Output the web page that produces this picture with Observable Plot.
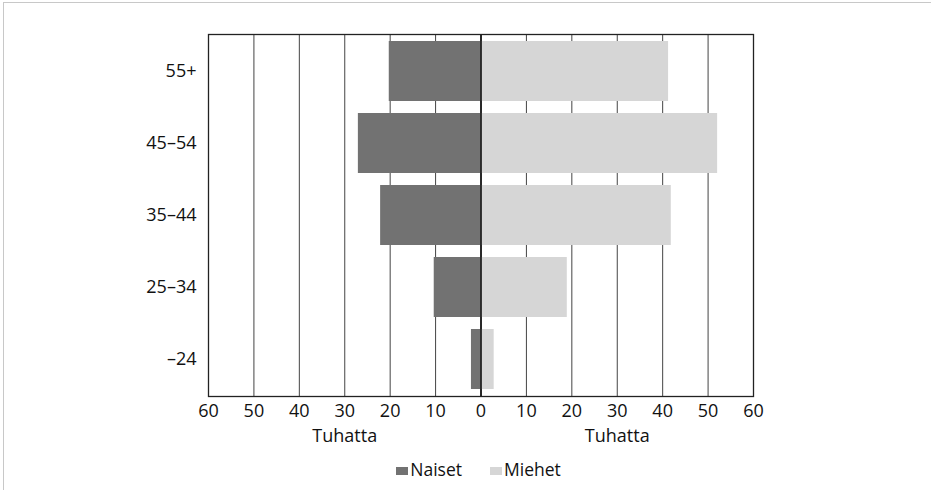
<!DOCTYPE html>
<html>
<head>
<meta charset="utf-8">
<script src="https://cdn.jsdelivr.net/npm/d3@7"></script>
<script src="https://cdn.jsdelivr.net/npm/@observablehq/plot@0.6"></script>
<style>
  html, body { margin: 0; padding: 0; background: #fff; }
  #wrap { position: relative; width: 931px; height: 490px; overflow: hidden; font-family: "Open Sans", sans-serif; }
  #border { position: absolute; left: 3px; top: 2px; right: 0; bottom: 0; border-top: 1px solid #c8c8c8; border-left: 1px solid #c8c8c8; pointer-events: none; }
  #chart { position: absolute; left: 0; top: 0; }
  #legend { position: absolute; left: 0; top: 457px; width: 931px; display: flex; justify-content: center; gap: 28px; font-size: 17.5px; color: #111; padding-left: 26px; box-sizing: border-box; }
  .item { display: flex; align-items: center; }
  .sw { display: inline-block; width: 12px; height: 8px; margin-right: 2px; margin-top: 4px; }
</style>
</head>
<body>
<div id="wrap">
  <div id="chart"></div>
  <div id="legend"></div>
  <div id="border"></div>
</div>
<script>
const ageGroups = ["55+", "45–54", "35–44", "25–34", "–24"];
const naiset = [20.2, 27.0, 22.1, 10.3, 2.1];
const miehet = [41.3, 52.1, 41.9, 19.0, 2.9];
const xTicks = [-60, -50, -40, -30, -20, -10, 0, 10, 20, 30, 40, 50, 60];
const axisTitles = [{x: -30, label: "Tuhatta"}, {x: 30, label: "Tuhatta"}];
const seriesNames = ["Naiset", "Miehet"];
const seriesColors = ["#727272", "#d6d6d6"];

const rows = [];
ageGroups.forEach((a, i) => {
  rows.push({age: a, sex: seriesNames[0], value: -naiset[i]});
  rows.push({age: a, sex: seriesNames[1], value: miehet[i]});
});

const chart = Plot.plot({
  width: 931,
  height: 452,
  marginLeft: 208,
  marginRight: 178,
  marginTop: 34,
  marginBottom: 56,
  style: {fontFamily: "Open Sans, sans-serif", fontSize: "18px", color: "#111", background: "transparent"},
  x: {domain: [-60, 60], ticks: xTicks, tickFormat: d => Math.abs(d), label: null},
  y: {domain: ageGroups, paddingInner: 0.16, paddingOuter: 0.08, label: null},
  color: {domain: seriesNames, range: seriesColors},
  marks: [
    Plot.gridX(xTicks, {stroke: "#444", strokeOpacity: 1, strokeWidth: 1}),
    Plot.barX(rows, {x: "value", y: "age", fill: "sex"}),
    Plot.ruleX([0], {stroke: "#000", strokeWidth: 1.5}),
    Plot.frame({stroke: "#222", strokeWidth: 1.3}),
    Plot.axisX({ticks: xTicks, tickFormat: d => Math.abs(d), tickSize: 0, tickPadding: 8, label: null, fontSize: 18}),
    Plot.axisY({tickSize: 0, tickPadding: 12, label: null, fontSize: 18}),
    Plot.text(axisTitles, {x: "x", text: "label", frameAnchor: "bottom", dy: 45, fontSize: 18, fill: "#111"})
  ]
});
document.getElementById("chart").appendChild(chart);

const legend = document.getElementById("legend");
seriesNames.forEach((n, i) => {
  const it = document.createElement("div");
  it.className = "item";
  const sw = document.createElement("span");
  sw.className = "sw";
  sw.style.background = seriesColors[i];
  it.appendChild(sw);
  it.appendChild(document.createTextNode(n));
  legend.appendChild(it);
});
</script>
</body>
</html>
